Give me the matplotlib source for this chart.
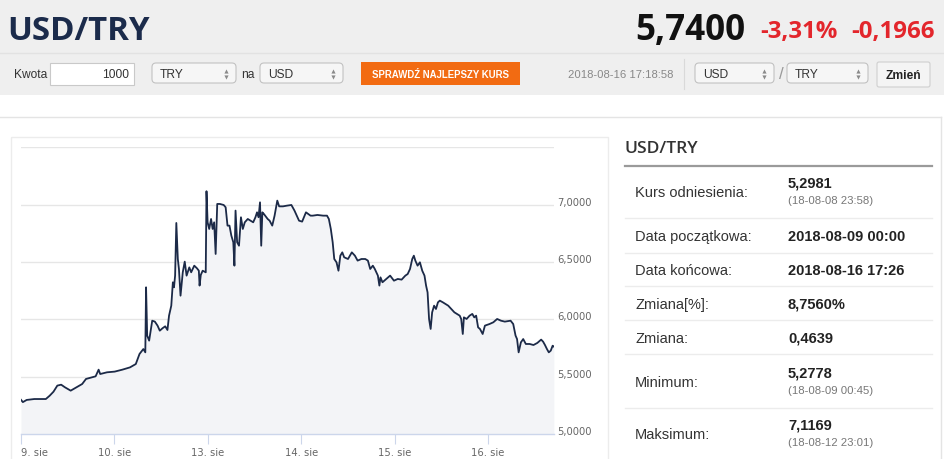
import matplotlib
matplotlib.use("Agg")
import matplotlib.pyplot as plt
from matplotlib.patches import Rectangle, FancyBboxPatch

plt.rcParams['font.family'] = ['Liberation Sans', 'DejaVu Sans']

# ---------------- data ----------------
pair = "USD/TRY"
last_price = "5,7400"
change_pct = "-3,31%"
change_abs = "-0,1966"
timestamp = "2018-08-16 17:18:58"

day_pos = [0, 1, 2, 3, 4, 5]
day_labels = ["9. sie", "10. sie", "13. sie", "14. sie", "15. sie", "16. sie"]
y_ticks = [5.0, 5.5, 6.0, 6.5, 7.0, 7.5]
y_labels = ["5,0000", "5,5000", "6,0000", "6,5000", "7,0000", ""]

# position on the trading-day axis (0 = 9 Aug 00:00, 1 day per unit, weekend skipped)
pos = [0.000,0.020,0.061,0.143,0.266,0.307,0.348,0.389,0.430,0.471,
       0.532,0.594,0.655,0.696,0.758,0.799,0.831,0.848,0.921,1.003,
       1.085,1.167,1.229,1.269,1.310,1.331,1.339,1.351,1.372,1.405,
       1.433,1.462,1.486,1.515,1.544,1.568,1.585,1.609,1.626,1.638,
       1.650,1.663,1.679,1.691,1.708,1.732,1.753,1.773,1.802,1.822,
       1.855,1.884,1.904,1.912,1.925,1.945,1.978,1.986,1.998,2.015,
       2.035,2.052,2.068,2.084,2.101,2.129,2.170,2.191,2.211,2.232,
       2.252,2.273,2.285,2.297,2.314,2.334,2.355,2.375,2.396,2.428,
       2.457,2.486,2.510,2.527,2.543,2.559,2.572,2.584,2.600,2.641,
       2.662,2.690,2.715,2.744,2.764,2.805,2.846,2.895,2.928,2.961,
       2.977,3.010,3.051,3.100,3.124,3.174,3.235,3.276,3.296,3.317,
       3.337,3.354,3.378,3.399,3.419,3.440,3.460,3.501,3.542,3.575,
       3.604,3.645,3.686,3.714,3.739,3.767,3.788,3.821,3.837,3.849,
       3.870,3.911,3.952,3.993,4.034,4.075,4.115,4.140,4.165,4.189,
       4.206,4.222,4.246,4.271,4.296,4.320,4.337,4.353,4.369,4.386,
       4.402,4.423,4.443,4.464,4.484,4.517,4.545,4.574,4.607,4.640,
       4.668,4.697,4.713,4.730,4.742,4.771,4.803,4.832,4.853,4.873,
       4.894,4.914,4.943,4.967,5.016,5.057,5.098,5.139,5.180,5.242,
       5.270,5.295,5.311,5.328,5.352,5.377,5.405,5.446,5.487,5.528,
       5.569,5.590,5.610,5.631,5.651,5.672,5.692,5.705]

rate = [5.298,5.278,5.297,5.305,5.305,5.334,5.369,5.422,5.430,5.407,
        5.378,5.407,5.436,5.480,5.494,5.503,5.561,5.523,5.538,5.544,
        5.561,5.581,5.610,5.698,5.741,5.712,6.279,5.858,5.814,5.988,
        5.980,5.945,5.901,5.922,5.939,5.907,6.032,6.119,6.323,6.279,
        6.381,6.840,6.526,6.439,6.206,6.410,6.503,6.381,6.453,6.410,
        6.468,6.445,6.424,6.294,6.387,6.424,6.410,7.117,6.846,6.788,
        6.875,6.788,6.846,6.570,7.006,7.006,6.997,6.977,6.817,6.817,
        6.730,6.672,6.468,6.948,6.672,6.642,6.890,6.788,6.846,6.875,
        6.860,6.846,6.890,6.933,6.890,7.020,6.642,6.933,6.919,6.875,
        6.860,6.817,6.904,7.035,6.985,6.985,6.991,6.997,6.948,6.890,
        6.860,6.852,6.933,6.904,6.904,6.910,6.904,6.904,6.875,6.788,
        6.672,6.526,6.497,6.424,6.555,6.584,6.541,6.526,6.584,6.555,
        6.512,6.526,6.526,6.512,6.439,6.468,6.439,6.381,6.294,6.366,
        6.323,6.352,6.381,6.337,6.352,6.346,6.381,6.395,6.439,6.526,
        6.555,6.512,6.468,6.497,6.424,6.381,6.294,6.235,6.003,5.916,
        6.061,6.119,6.090,6.148,6.163,6.148,6.134,6.119,6.090,6.061,
        6.047,6.032,6.003,5.872,6.017,6.003,6.032,6.047,6.017,6.032,
        5.930,5.916,5.872,5.945,5.959,5.974,6.003,5.988,5.980,5.988,
        5.959,5.858,5.828,5.712,5.799,5.828,5.785,5.785,5.776,5.794,
        5.823,5.805,5.776,5.741,5.712,5.727,5.770,5.762]

row_labels = ["Kurs odniesienia:", "Data początkowa:", "Data końcowa:",
              "Zmiana[%]:", "Zmiana:", "Minimum:", "Maksimum:"]
row_values = ["5,2981", "2018-08-09 00:00", "2018-08-16 17:26",
              "8,7560%", "0,4639", "5,2778", "7,1169"]
row_notes = ["(18-08-08 23:58)", "", "", "", "", "(18-08-09 00:45)", "(18-08-12 23:01)"]

# ---------------- figure ----------------
W, H = 945, 460
PT = 0.72  # px -> pt at dpi 100

fig = plt.figure(figsize=(W / 100, H / 100), dpi=100)
bg = fig.add_axes([0, 0, 1, 1])
bg.set_xlim(0, W)
bg.set_ylim(H, 0)
bg.axis('off')


def rect(x0, y0, x1, y1, **kw):
    bg.add_patch(Rectangle((x0, y0), x1 - x0, y1 - y0, **kw))


def rbox(x0, y0, x1, y1, r=3, **kw):
    bg.add_patch(FancyBboxPatch((x0 + r, y0 + r), x1 - x0 - 2 * r, y1 - y0 - 2 * r,
                                boxstyle=f"round,pad={r}", **kw))


def txt(x, y, s, px, **kw):
    kw.setdefault('va', 'center')
    bg.text(x, y, s, fontsize=px * PT, **kw)


OPEN = ['Open Sans', 'DejaVu Sans']

# header band
rect(0, 0, W, 96, fc='#efefef', ec='none')
bg.plot([0, W], [53.5, 53.5], color='#e2e2e2', lw=1)
txt(7, 40, pair, 33, va='baseline', family=OPEN, weight='bold', color='#1b2b4b')
txt(745, 40, last_price, 35, va='baseline', ha='right', family=OPEN,
    weight='bold', color='#111111')
txt(838, 38, change_pct, 24, va='baseline', ha='right', family=OPEN,
    weight='bold', color='#e3262c')
txt(935, 38, change_abs, 24, va='baseline', ha='right', family=OPEN,
    weight='bold', color='#e3262c')

# toolbar
cy = 74.5
txt(14, cy, "Kwota", 12, color='#333333')
rect(49.5, 63.5, 133.5, 85.5, fc='white', ec='#c9c9c9', lw=0.8)
txt(129, cy, "1000", 12, ha='right', color='#333333')


def select(x0, x1, label):
    rbox(x0, 64, x1, 84, r=4, fc='#f6f6f6', ec='#c2c2c2', lw=0.8)
    txt(x0 + 8, cy, label, 12, color='#333333')
    bg.plot([x1 - 10], [71.5], marker='^', ms=3, color='#8a8a8a', mec='none')
    bg.plot([x1 - 10], [77.5], marker='v', ms=3, color='#8a8a8a', mec='none')


select(152, 236, "TRY")
txt(241, cy, "na", 12, color='#333333')
select(260, 343, "USD")
rect(361, 63, 520, 86, fc='#f26b12', ec='none')
txt(440.5, cy + 0.5, "SPRAWDŹ NAJLEPSZY KURS", 9.6, ha='center', weight='bold', color='white')
txt(568, cy + 0.5, timestamp, 11.2, color='#888888')
bg.plot([683.5, 683.5], [60, 90], color='#d9d9d9', lw=0.8)
select(695, 774, "USD")
txt(781, cy, "/", 17, color='#9a9a9a', ha='center')
select(787, 868, "TRY")
rbox(877, 63, 930, 88, r=2, fc='#f4f4f4', ec='#cfcfcf', lw=0.8)
txt(903.5, 76, "Zmień", 12, ha='center', weight='bold', color='#222222')

# page body
rect(0, 96, W, H, fc='white', ec='none')
bg.plot([0, 940.5], [117.5, 117.5], color='#e4e4e4', lw=1)
bg.plot([940.5, 940.5], [117.5, H], color='#e4e4e4', lw=1)
rect(10.5, 137.5, 608, 480, fc='none', ec='#ececec', lw=1)

# right panel
txt(625, 149, pair, 17.5, family=OPEN, weight='semibold', color='#333333')
bg.plot([625, 932], [166.5, 166.5], color='#9a9a9a', lw=1.6)
label_y = [192.7, 236.7, 271, 305, 339, 382.7, 435]
seps = [219.3, 254, 287.3, 321.3, 355.3, 408.7]
for s in seps:
    bg.plot([625, 932], [s, s], color='#ececec', lw=1)
for lab, val, note, y in zip(row_labels, row_values, row_notes, label_y):
    txt(635, y, lab, 14.6, color='#333333')
    if note:
        txt(788, y - 9.5, val, 14.6, weight='bold', color='#222222')
        txt(788, y + 8, note, 11.4, color='#777777')
    else:
        txt(788, y, val, 14.6, weight='bold', color='#222222')

# ---------------- chart ----------------
x_left, x_right = 21.0, 554.2
y_top, y_bot = 148.3, 435.0
ax = fig.add_axes([x_left / W, (H - y_bot) / H, (x_right - x_left) / W, (y_bot - y_top) / H])
ax.patch.set_alpha(0)
ax.set_xlim(0, (x_right - x_left) / 93.4)
ax.set_ylim(5.0, 7.5)

ax.fill_between(pos, rate, 5.0, color='#f3f4f7', lw=0, zorder=1)
ax.plot(pos, rate, color='#1c2a48', lw=1.3, zorder=3)

ax.set_yticks(y_ticks)
ax.set_yticklabels(y_labels)
ax.yaxis.tick_right()
ax.tick_params(axis='y', length=0, pad=2.5, labelsize=10 * PT, labelcolor='#666666')
for lab in ax.get_yticklabels():
    lab.set_fontfamily(['DejaVu Sans'])
    lab.set_verticalalignment('baseline')
ax.yaxis.grid(True, color='#e6e6e6', lw=1.0, zorder=0)
ax.set_axisbelow(True)

ax.set_xticks(day_pos)
ax.set_xticklabels(day_labels)
ax.tick_params(axis='x', length=10 * PT, width=0.8, color='#ccd6eb', pad=2,
               labelsize=10 * PT, labelcolor='#666666')
xl = ax.get_xticklabels()
for lab in xl:
    lab.set_fontfamily(['DejaVu Sans'])
xl[0].set_horizontalalignment('left')

for side in ['top', 'left', 'right']:
    ax.spines[side].set_visible(False)
ax.spines['bottom'].set_color('#ccd6eb')
ax.spines['bottom'].set_linewidth(1.0)

fig.savefig("out.png", dpi=100)
